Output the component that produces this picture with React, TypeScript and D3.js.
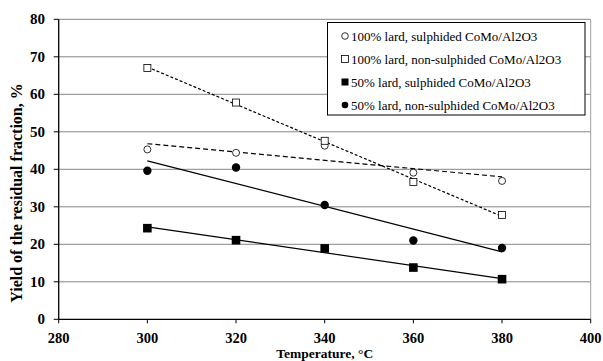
import React from "react";
import * as d3 from "d3";

const temperatures = [300, 320, 340, 360, 380];
const lard100Sulph = [45.3, 44.4, 46.3, 39.1, 36.9];
const lard100NonSulph = [67.0, 57.8, 47.6, 36.6, 27.8];
const lard50Sulph = [24.3, 21.1, 18.9, 13.8, 10.7];
const lard50NonSulph = [39.6, 40.5, 30.5, 21.0, 19.0];

const xTicks = [280, 300, 320, 340, 360, 380, 400];
const yTicks = [0, 10, 20, 30, 40, 50, 60, 70, 80];

const seriesNames = [
  "100% lard, sulphided CoMo/Al2O3",
  "100% lard, non-sulphided CoMo/Al2O3",
  "50% lard, sulphided CoMo/Al2O3",
  "50% lard, non-sulphided CoMo/Al2O3",
];

const W = 603;
const H = 361;
const left = 58.7;
const right = 590.7;
const top = 19.3;
const bottom = 319.3;

function regression(xs: number[], ys: number[]) {
  const mx = d3.mean(xs)!;
  const my = d3.mean(ys)!;
  let num = 0;
  let den = 0;
  xs.forEach((x, i) => {
    num += (x - mx) * (ys[i] - my);
    den += (x - mx) * (x - mx);
  });
  const slope = num / den;
  return (x: number) => my + slope * (x - mx);
}

export default function App() {
  const x = d3.scaleLinear().domain([280, 400]).range([left, right]);
  const y = d3.scaleLinear().domain([0, 80]).range([bottom, top]);
  const font = "'Liberation Serif', 'Times New Roman', serif";

  const series = [
    { name: seriesNames[0], vals: lard100Sulph, marker: "circle", fill: "white", dash: "5,3" },
    { name: seriesNames[1], vals: lard100NonSulph, marker: "square", fill: "white", dash: "3,2" },
    { name: seriesNames[2], vals: lard50Sulph, marker: "square", fill: "black", dash: null },
    { name: seriesNames[3], vals: lard50NonSulph, marker: "circle", fill: "black", dash: null },
  ];

  const line = d3.line<[number, number]>().x((d) => x(d[0])).y((d) => y(d[1]));

  const marker = (type: string, fill: string, cx: number, cy: number, big: boolean, key: string) => {
    const filled = fill === "black";
    if (type === "circle") {
      const r = big ? (filled ? 4.2 : 3.5) : 3.3;
      return <circle key={key} cx={cx} cy={cy} r={r} fill={fill} stroke="black" strokeWidth={filled ? 0 : 0.8} />;
    }
    const s = big ? (filled ? 8.6 : 7) : 7;
    return (
      <rect key={key} x={cx - s / 2} y={cy - s / 2} width={s} height={s} fill={fill} stroke="black" strokeWidth={filled ? 0 : 0.8} />
    );
  };

  return (
    <svg width={W} height={H} style={{ position: "absolute", left: 0, top: 0, background: "white" }}>
      {/* gridlines */}
      {yTicks.filter((t) => t > 0).map((t) => (
        <line key={"g" + t} x1={left} x2={right} y1={y(t)} y2={y(t)} stroke="#858585" strokeWidth={1} />
      ))}
      <line x1={right} x2={right} y1={top} y2={bottom} stroke="#a0a0a0" strokeWidth={1} />
      {/* axes */}
      <line x1={left} x2={left} y1={top} y2={bottom} stroke="black" strokeWidth={1.3} />
      <line x1={left} x2={right} y1={bottom} y2={bottom} stroke="black" strokeWidth={1.3} />
      {yTicks.map((t) => (
        <g key={"yt" + t}>
          <line x1={left - 5} x2={left} y1={y(t)} y2={y(t)} stroke="black" strokeWidth={1} />
          <text x={45} y={y(t) + 5} textAnchor="end" fontFamily={font} fontWeight="bold" fontSize={15}>
            {t}
          </text>
        </g>
      ))}
      {xTicks.map((t) => (
        <g key={"xt" + t}>
          <line x1={x(t)} x2={x(t)} y1={bottom} y2={bottom + 4} stroke="black" strokeWidth={1} />
          <text x={x(t)} y={342.5} textAnchor="middle" fontFamily={font} fontWeight="bold" fontSize={14.5}>
            {t}
          </text>
        </g>
      ))}
      <text x={(left + right) / 2} y={357.8} textAnchor="middle" fontFamily={font} fontWeight="bold" fontSize={13.5}>
        Temperature, °C
      </text>
      <text
        transform={`translate(22,${193}) rotate(-90)`}
        textAnchor="middle"
        fontFamily={font}
        fontWeight="bold"
        fontSize={16}
      >
        Yield of the residual fraction, %
      </text>
      {/* trend lines */}
      {series.map((s, i) => {
        const f = regression(temperatures, s.vals);
        const pts: [number, number][] = [
          [temperatures[0], f(temperatures[0])],
          [temperatures[temperatures.length - 1], f(temperatures[temperatures.length - 1])],
        ];
        return (
          <path
            key={"tl" + i}
            d={line(pts) || ""}
            fill="none"
            stroke="black"
            strokeWidth={1.2}
            strokeDasharray={s.dash || undefined}
          />
        );
      })}
      {/* markers */}
      {series.map((s, i) =>
        s.vals.map((v, j) => marker(s.marker, s.fill, x(temperatures[j]), y(v), true, `m${i}-${j}`))
      )}
      {/* legend */}
      <rect x={327.5} y={22.5} width={257.5} height={92.5} fill="white" stroke="black" strokeWidth={1} />
      {series.map((s, i) => (
        <g key={"lg" + i}>
          {marker(s.marker, s.fill, 345, 36 + i * 23, false, "lm" + i)}
          <text x={351} y={36 + i * 23 + 4.5} fontFamily={font} fontSize={13}>
            {s.name}
          </text>
        </g>
      ))}
    </svg>
  );
}
